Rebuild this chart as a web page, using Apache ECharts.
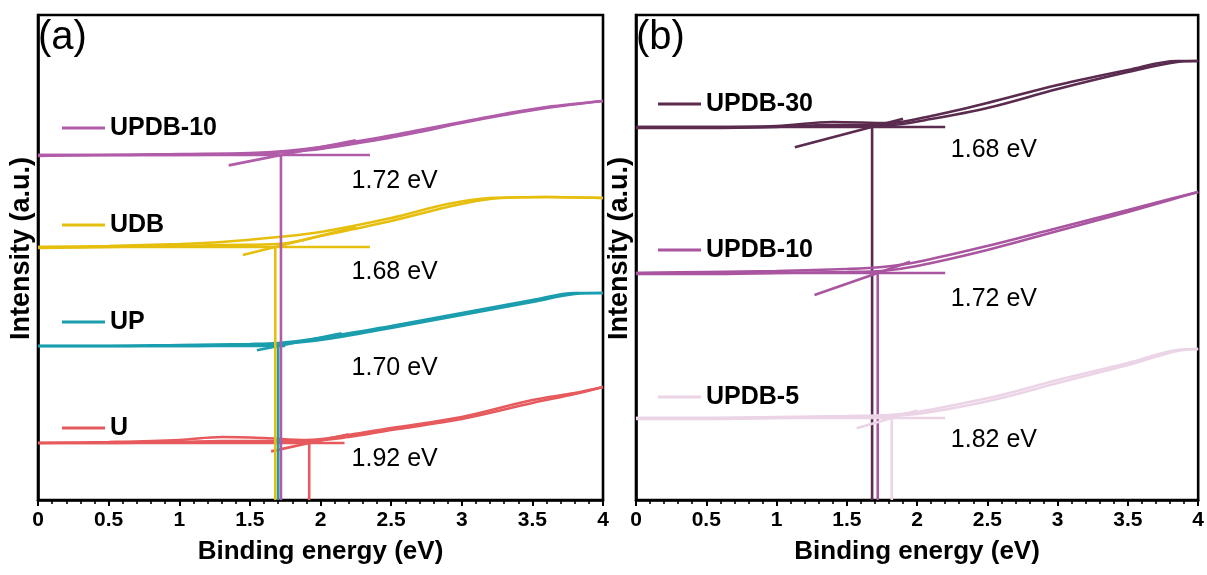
<!DOCTYPE html>
<html>
<head>
<meta charset="utf-8">
<script src="https://cdn.jsdelivr.net/npm/echarts@6/dist/echarts.min.js"></script>
<style>
  html, body { margin: 0; padding: 0; background: #fff; }
  #chart { width: 1207px; height: 575px; }
</style>
</head>
<body>
<div id="chart"></div>
<script>
// ---- Panel (a): U, UP, UDB, UPDB-10 ----
const namesA = ['U', 'UP', 'UDB', 'UPDB-10'];

const uEnergy   = [0, 0.5, 1, 1.3, 1.6, 1.9, 2.2, 2.5, 3, 3.5, 3.8, 4];
const uSweep1   = [57, 58, 60, 63, 62, 60, 65, 72, 83, 100, 107, 113];
const uSweep2   = [57, 57, 58, 59, 59, 59, 63, 70, 81, 97, 106, 113];

const upEnergy  = [0, 0.5, 1, 1.5, 1.7, 2, 2.5, 3, 3.5, 3.8, 4];
const upSweep1  = [154, 154, 155, 156, 157, 162, 174, 187, 200, 207, 207];
const upSweep2  = [154, 154, 154, 155, 156, 160, 172, 185, 198, 206, 207];

const udbEnergy = [0, 0.5, 1, 1.3, 1.7, 2, 2.5, 2.9, 3.2, 3.6, 4];
const udbSweep1 = [253, 254, 256, 258, 263, 268, 282, 296, 302, 303, 302];
const udbSweep2 = [252, 253, 254, 255, 256, 264, 279, 293, 301, 303, 302];

const p10aEnergy = [0, 0.5, 1, 1.5, 1.75, 2, 2.4, 2.7, 3, 3.3, 3.6, 4];
const p10aSweep1 = [345, 345, 346, 347, 349, 353, 362, 370, 378, 386, 393, 399];
const p10aSweep2 = [344, 345, 345, 346, 348, 351, 360, 368, 377, 385, 392, 399];

const bandGapA     = [1.92, 1.70, 1.68, 1.72];
const baselineA    = [57, 154, 253, 345];
const slopeA       = [31, 28, 35, 28];
const tangentFromA = [1.65, 1.55, 1.45, 1.35];
const tangentToA   = [2.2, 2.15, 2.25, 2.25];
const baseEndA     = [2.17, 1.75, 2.35, 2.35];

// ---- Panel (b): UPDB-30, UPDB-10, UPDB-5 ----
const namesB = ['UPDB-30', 'UPDB-10', 'UPDB-5'];

const p30Energy = [0, 0.5, 1, 1.4, 1.8, 2.1, 2.5, 3, 3.5, 3.85, 4];
const p30Sweep1 = [373, 373, 374, 378, 377, 384, 397, 415, 430, 439, 439];
const p30Sweep2 = [372, 372, 373, 375, 375, 381, 392, 411, 428, 438, 439];

const p10bEnergy = [0, 0.5, 1, 1.5, 1.75, 2, 2.5, 3, 3.5, 3.8, 4];
const p10bSweep1 = [227, 228, 229, 231, 233, 238, 254, 272, 290, 301, 308];
const p10bSweep2 = [226, 226, 227, 228, 229, 234, 250, 269, 288, 300, 308];

const p5Energy  = [0, 0.5, 1, 1.5, 1.8, 2, 2.3, 2.6, 3, 3.5, 3.85, 4];
const p5Sweep1  = [82, 82, 83, 84, 85, 88, 96, 105, 120, 137, 150, 151];
const p5Sweep2  = [81, 81, 82, 83, 84, 86, 93, 102, 117, 135, 149, 151];

const bandGapB     = [1.68, 1.72, 1.82];
const baselineB    = [373, 227, 82];
const slopeB       = [37, 49, 41];
const tangentFromB = [1.13, 1.27, 1.57];
const tangentToB   = [1.9, 1.95, 2.0];
const baseEndB     = [2.2, 2.2, 2.2];

// ---- styling / layout ----
const colorsA = ['#E65A5D', '#1A9EAE', '#E6BF0E', '#B15CA9'];
const colorsB = ['#5A2B4E', '#A9559F', '#EBD4E6'];
const legendYA = [428, 322, 225, 128];
const legendYB = [104, 250, 397];
const labelPosA = [[2.22, 41], [2.22, 132], [2.22, 228], [2.22, 319]];
const labelPosB = [[2.24, 350], [2.24, 201], [2.24, 60]];

const FONT = 'Liberation Sans, Arial, sans-serif';
const LW = 2.6;

const panels = [
  { names: namesA, colors: colorsA, gaps: bandGapA, base: baselineA, slope: slopeA,
    tFrom: tangentFromA, tTo: tangentToA, bEnd: baseEndA, legendY: legendYA, labelPos: labelPosA,
    traces: [[uEnergy, uSweep1, uSweep2], [upEnergy, upSweep1, upSweep2],
             [udbEnergy, udbSweep1, udbSweep2], [p10aEnergy, p10aSweep1, p10aSweep2]],
    legendX: 62, tag: '(a)', tagX: 38 },
  { names: namesB, colors: colorsB, gaps: bandGapB, base: baselineB, slope: slopeB,
    tFrom: tangentFromB, tTo: tangentToB, bEnd: baseEndB, legendY: legendYB, labelPos: labelPosB,
    traces: [[p30Energy, p30Sweep1, p30Sweep2], [p10bEnergy, p10bSweep1, p10bSweep2],
             [p5Energy, p5Sweep1, p5Sweep2]],
    legendX: 658, tag: '(b)', tagX: 636 }
];

const zip = (xs, ys) => xs.map((x, i) => [x, ys[i]]);

const series = [];
const legends = [];
const graphics = [];

panels.forEach((p, gi) => {
  p.names.forEach((name, i) => {
    const c = p.colors[i];
    const [xs, s1, s2] = p.traces[i];
    const common = {
      type: 'line', xAxisIndex: gi, yAxisIndex: gi, showSymbol: false, symbol: 'none',
      lineStyle: { color: c, width: LW }, itemStyle: { color: c }, silent: true, animation: false
    };
    // forward and return sweeps
    series.push(Object.assign({}, common, { name, smooth: 0.35, data: zip(xs, s1) }));
    series.push(Object.assign({}, common, { name, smooth: 0.35, data: zip(xs, s2) }));
    // linear extrapolation of the absorption edge
    const g = p.gaps[i], b = p.base[i], k = p.slope[i];
    series.push(Object.assign({}, common, { name, data: [
      [p.tFrom[i], b + k * (p.tFrom[i] - g)], [p.tTo[i], b + k * (p.tTo[i] - g)]
    ] }));
    // baseline
    series.push(Object.assign({}, common, { name, data: [[0, b], [p.bEnd[i], b]] }));
    // drop line at the band-edge energy
    series.push(Object.assign({}, common, { name, data: [[g, b], [g, 0]] }));
    // value annotation
    series.push({
      type: 'scatter', xAxisIndex: gi, yAxisIndex: gi, symbolSize: 0, silent: true, animation: false,
      itemStyle: { opacity: 1 },
      data: [p.labelPos[i]],
      label: { show: true, position: 'right', distance: 0, color: '#000', opacity: 1,
               fontFamily: FONT, fontSize: 25, formatter: () => g.toFixed(2) + ' eV' }
    });
    legends.push({
      show: true, selectedMode: false, left: p.legendX, top: p.legendY[i] - 13, padding: 0,
      icon: 'rect', itemWidth: 43, itemHeight: 3, itemGap: 0,
      data: [{ name, itemStyle: { color: c } }],
      textStyle: { fontFamily: FONT, fontWeight: 'bold', fontSize: 25, color: '#000', lineHeight: 26, padding: [0, 0, 0, 0] }
    });
  });
  graphics.push({
    type: 'text', left: p.tagX, top: 18,
    style: { text: p.tag, font: '40px ' + FONT, fill: '#000' }
  });
});

const mkX = (gi) => ({
  type: 'value', gridIndex: gi, min: 0, max: 4, interval: 0.5,
  axisLine: { show: true, onZero: false, lineStyle: { color: '#000', width: 2.6 } },
  axisTick: { show: true, inside: false, length: 6, lineStyle: { color: '#000', width: 2 } },
  minorTick: { show: true, splitNumber: 5, length: 4, lineStyle: { color: '#000', width: 1.6 } },
  splitLine: { show: false },
  axisLabel: { color: '#000', fontFamily: FONT, fontWeight: 'bold', fontSize: 21, margin: 10 },
  name: 'Binding energy (eV)', nameLocation: 'middle', nameGap: 39,
  nameTextStyle: { color: '#000', fontFamily: FONT, fontWeight: 'bold', fontSize: 26 }
});
const mkY = (gi) => ({
  type: 'value', gridIndex: gi, min: 0, max: 485,
  axisLine: { show: true, onZero: false, lineStyle: { color: '#000', width: 2.6 } },
  axisTick: { show: false }, axisLabel: { show: false }, splitLine: { show: false },
  name: 'Intensity (a.u.)', nameLocation: 'middle', nameGap: 3,
  nameTextStyle: { color: '#000', fontFamily: FONT, fontWeight: 'bold', fontSize: 27, padding: [0, 0, 0, 18] }
});

const chart = echarts.init(document.getElementById('chart'), null, { renderer: 'canvas' });
chart.setOption({
  backgroundColor: '#fff',
  animation: false,
  grid: [
    { left: 38, top: 15, width: 565, height: 485, show: true, borderColor: '#000', borderWidth: 2.6, backgroundColor: 'transparent' },
    { left: 636, top: 15, width: 563, height: 485, show: true, borderColor: '#000', borderWidth: 2.6, backgroundColor: 'transparent' }
  ],
  xAxis: [mkX(0), mkX(1)],
  yAxis: [mkY(0), mkY(1)],
  legend: legends,
  graphic: graphics,
  series
});
</script>
</body>
</html>
